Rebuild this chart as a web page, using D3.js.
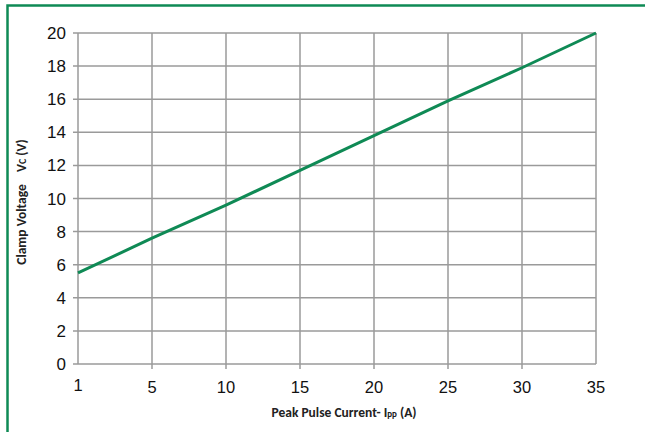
<!DOCTYPE html>
<html>
<head>
<meta charset="utf-8">
<script src="https://cdn.jsdelivr.net/npm/d3@7"></script>
<style>
  body { margin: 0; background: #fff; }
  svg { display: block; }
</style>
</head>
<body>
<div id="chart"></div>
<script>
// данные графика
const currentLabels = ["1", "5", "10", "15", "20", "25", "30", "35"];
const clampVoltage = [5.5, 7.6, 9.6, 11.7, 13.8, 15.9, 17.9, 20];
const voltageTicks = [0, 2, 4, 6, 8, 10, 12, 14, 16, 18, 20];

const W = 645, H = 432;
const green = "#0f8a55";
const gridColor = "#9a9a9a";

let svg = d3.select("#chart").append("svg")
    .attr("width", W).attr("height", H);

// рамка
svg.append("path")
    .attr("d", "M7.5," + H + " V5.5 H" + W)
    .attr("fill", "none").attr("stroke", green).attr("stroke-width", 2.5);

let x = d3.scalePoint().domain(currentLabels).range([78, 596]).padding(0);
let y = d3.scaleLinear().domain([0, 20]).range([364, 33]);

// горизонтальная сетка
svg.append("g").selectAll("line").data(voltageTicks).enter().append("line")
    .attr("x1", 73).attr("x2", 596)
    .attr("y1", d => y(d)).attr("y2", d => y(d))
    .attr("stroke", gridColor).attr("stroke-width", 1.5);

// вертикальная сетка
svg.append("g").selectAll("line").data(currentLabels).enter().append("line")
    .attr("x1", d => x(d)).attr("x2", d => x(d))
    .attr("y1", y(20)).attr("y2", (d, i) => i === 0 || i === currentLabels.length - 1 ? y(0) : y(0) + 5)
    .attr("stroke", gridColor).attr("stroke-width", 1.5);

// подписи оси Y
svg.append("g").selectAll("text").data(voltageTicks).enter().append("text")
    .attr("x", 66).attr("y", d => y(d) + 6)
    .attr("text-anchor", "end")
    .attr("font-family", "'Liberation Sans Narrow', 'Arial Narrow', sans-serif")
    .attr("font-size", 17).attr("fill", "#111")
    .text(d => d);

// подписи оси X
svg.append("g").selectAll("text").data(currentLabels).enter().append("text")
    .attr("x", d => x(d)).attr("y", (d, i) => i === 0 ? 391 : 393)
    .attr("text-anchor", "middle")
    .attr("font-family", "'Liberation Sans', Arial, sans-serif")
    .attr("font-size", 16.5).attr("fill", "#111")
    .text(d => d);

// линия
let line = d3.line().x((d, i) => x(currentLabels[i])).y(d => y(d));
svg.append("path").datum(clampVoltage)
    .attr("d", line)
    .attr("fill", "none").attr("stroke", green).attr("stroke-width", 3);

// заголовки осей
let xt = svg.append("text")
    .attr("x", 344).attr("y", 417)
    .attr("text-anchor", "middle")
    .attr("font-family", "Carlito, Calibri, 'Open Sans', sans-serif")
    .attr("font-weight", "bold").attr("font-size", 13.5).attr("fill", "#222");
xt.append("tspan").text("Peak Pulse Current- I");
xt.append("tspan").attr("font-size", 9).attr("dy", 2).text("PP");
xt.append("tspan").attr("dy", -2).text(" (A)");

let yt = svg.append("text")
    .attr("transform", "translate(26,202) rotate(-90)")
    .attr("text-anchor", "middle")
    .attr("font-family", "Carlito, Calibri, 'Open Sans', sans-serif")
    .attr("font-weight", "bold").attr("font-size", 13.5).attr("fill", "#222");
yt.append("tspan").attr("xml:space", "preserve").text("Clamp Voltage    V");
yt.append("tspan").attr("font-size", 10).text("C");
yt.append("tspan").text(" (V)");
</script>
</body>
</html>
